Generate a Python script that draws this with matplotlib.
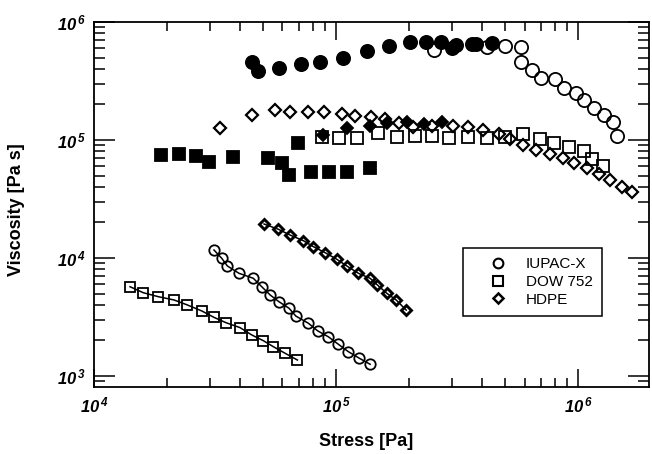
import matplotlib
matplotlib.use("Agg")
import matplotlib.pyplot as plt
from matplotlib.lines import Line2D
from matplotlib.ticker import LogLocator, NullFormatter

plt.rcParams['font.family'] = ['Liberation Sans', 'DejaVu Sans']

# upper data: filled circles
fcirc_x = [4.48e4, 4.77e4, 5.81e4, 7.15e4, 8.59e4, 1.072e5, 1.347e5, 1.661e5, 2.01e5,
           2.355e5, 2.71e5, 3.01e5, 3.13e5, 3.64e5, 3.79e5, 4.40e5]
fcirc_y = [4.61e5, 3.87e5, 4.05e5, 4.38e5, 4.56e5, 4.98e5, 5.68e5, 6.26e5, 6.73e5,
           6.73e5, 6.73e5, 5.99e5, 6.38e5, 6.51e5, 6.47e5, 6.60e5]
# open circles (IUPAC-X)
ocirc_x = [2.525e5, 4.195e5, 4.99e5, 5.80e5, 5.80e5, 6.44e5, 7.01e5, 8.04e5, 8.70e5,
           9.78e5, 1.059e6, 1.165e6, 1.281e6, 1.391e6, 1.445e6]
ocirc_y = [5.79e5, 6.17e5, 6.30e5, 6.14e5, 4.56e5, 3.92e5, 3.33e5, 3.27e5, 2.74e5,
           2.52e5, 2.18e5, 1.856e5, 1.628e5, 1.429e5, 1.081e5]
# filled squares
fsq_x = [1.892e4, 2.25e4, 2.64e4, 2.99e4, 3.76e4, 5.25e4, 5.96e4, 6.39e4, 6.99e4,
         7.86e4, 9.38e4, 1.114e5, 1.382e5]
fsq_y = [7.46e4, 7.56e4, 7.32e4, 6.55e4, 7.22e4, 7.0e4, 6.34e4, 5.05e4, 9.43e4,
         5.39e4, 5.39e4, 5.39e4, 5.76e4]
# open squares (DOW 752)
osq_x = [8.73e4, 1.032e5, 1.218e5, 1.496e5, 1.781e5, 2.121e5, 2.486e5, 2.93e5, 3.495e5,
         4.18e5, 4.99e5, 5.94e5, 6.97e5, 7.96e5, 9.2e5, 1.052e6, 1.14e6, 1.26e6]
osq_y = [1.067e5, 1.046e5, 1.046e5, 1.14e5, 1.067e5, 1.081e5, 1.081e5, 1.05e5, 1.06e5,
         1.05e5, 1.067e5, 1.117e5, 1.02e5, 9.49e4, 8.77e4, 8.07e4, 6.9e4, 6.02e4]
# filled diamonds
fdia_x = [8.86e4, 1.107e5, 1.382e5, 1.62e5, 1.97e5, 2.31e5, 2.735e5]
fdia_y = [1.103e5, 1.257e5, 1.314e5, 1.385e5, 1.429e5, 1.366e5, 1.421e5]
# open diamonds (HDPE)
odia_x = [3.317e4, 4.48e4, 5.60e4, 6.45e4, 7.68e4, 8.92e4, 1.056e5, 1.198e5, 1.391e5,
          1.594e5, 1.826e5, 2.087e5, 2.493e5, 3.05e5, 3.52e5, 4.04e5, 4.69e5, 5.24e5,
          5.94e5, 6.71e5, 7.61e5, 8.65e5, 9.56e5, 1.086e6, 1.213e6, 1.356e6, 1.516e6, 1.667e6]
odia_y = [1.257e5, 1.628e5, 1.796e5, 1.737e5, 1.737e5, 1.737e5, 1.66e5, 1.607e5, 1.557e5,
          1.521e5, 1.385e5, 1.297e5, 1.327e5, 1.314e5, 1.281e5, 1.215e5, 1.124e5, 1.014e5,
          9.07e4, 8.23e4, 7.61e4, 7.0e4, 6.34e4, 5.76e4, 5.15e4, 4.58e4, 4.02e4, 3.65e4]

# lower data (with lines)
lsq_x = [1.409e4, 1.598e4, 1.844e4, 2.141e4, 2.43e4, 2.786e4, 3.13e4, 3.51e4, 4.01e4,
         4.48e4, 5.01e4, 5.51e4, 6.16e4, 6.92e4]
lsq_y = [5.71e3, 5.08e3, 4.70e3, 4.41e3, 4.0e3, 3.56e3, 3.14e3, 2.83e3, 2.57e3,
         2.23e3, 1.99e3, 1.77e3, 1.557e3, 1.366e3]
lcirc_x = [3.13e4, 3.37e4, 3.555e4, 3.97e4, 4.55e4, 4.93e4, 5.34e4, 5.81e4, 6.39e4,
           6.82e4, 7.68e4, 8.40e4, 9.29e4, 1.022e5, 1.124e5, 1.248e5, 1.382e5]
lcirc_y = [1.169e4, 9.94e3, 8.56e3, 7.42e3, 6.73e3, 5.71e3, 4.86e3, 4.26e3, 3.75e3,
           3.22e3, 2.80e3, 2.41e3, 2.15e3, 1.856e3, 1.607e3, 1.413e3, 1.257e3]
ldia_x = [5.04e4, 5.78e4, 6.45e4, 7.33e4, 8.06e4, 9.01e4, 1.007e5, 1.107e5, 1.236e5,
          1.382e5, 1.482e5, 1.62e5, 1.77e5, 1.947e5]
ldia_y = [1.941e4, 1.75e4, 1.566e4, 1.401e4, 1.247e4, 1.109e4, 9.75e3, 8.56e3, 7.42e3,
          6.73e3, 5.90e3, 5.02e3, 4.41e3, 3.62e3]

legend_labels = ['IUPAC-X', 'DOW 752', 'HDPE']
xtick_vals = [1e4, 1e5, 1e6]
xtick_labels = [r'$\mathdefault{10^{\,4}}$', r'$\mathdefault{10^{\,5}}$', r'$\mathdefault{10^{\,6}}$']
ytick_vals = [1e3, 1e4, 1e5, 1e6]
ytick_labels = [r'$\mathdefault{10^{\,3}}$', r'$\mathdefault{10^{\,4}}$',
                r'$\mathdefault{10^{\,5}}$', r'$\mathdefault{10^{\,6}}$']

fig = plt.figure(figsize=(6.52, 4.54), dpi=100)
ax = fig.add_axes([94 / 652, 67 / 454, 555 / 652, 365 / 454])
ax.set_xscale('log')
ax.set_yscale('log')

k = 'black'
mw = 1.3
ax.plot(fcirc_x, fcirc_y, 'o', ms=9.5, mfc=k, mec=k, mew=mw)
ax.plot(fsq_x, fsq_y, 's', ms=9, mfc=k, mec=k, mew=mw)
ax.plot(fdia_x, fdia_y, 'D', ms=6.5, mfc=k, mec=k, mew=mw)
ax.plot(ocirc_x, ocirc_y, 'o', ms=9.5, mfc='none', mec=k, mew=mw)
ax.plot(osq_x, osq_y, 's', ms=9, mfc='none', mec=k, mew=mw)
ax.plot(odia_x, odia_y, 'D', ms=6, mfc='none', mec=k, mew=1.6)

ax.plot(lsq_x, lsq_y, 's-', color=k, lw=1.1, ms=7.5, mfc='none', mec=k, mew=mw)
ax.plot(lcirc_x, lcirc_y, 'o-', color=k, lw=1.1, ms=7.5, mfc='none', mec=k, mew=mw)
ax.plot(ldia_x, ldia_y, 'D-', color=k, lw=1.1, ms=5, mfc='none', mec=k, mew=2.1)

ax.set_xlim(1e4, 1.96e6)
ax.set_ylim(8.07e2, 1e6)

ax.set_xticks(xtick_vals, xtick_labels)
ax.set_yticks(ytick_vals, ytick_labels)
ax.xaxis.set_minor_locator(LogLocator(base=10, subs=range(2, 10), numticks=20))
ax.yaxis.set_minor_locator(LogLocator(base=10, subs=range(2, 10), numticks=20))
ax.xaxis.set_minor_formatter(NullFormatter())
ax.yaxis.set_minor_formatter(NullFormatter())
ax.tick_params(which='both', direction='in', top=True, right=True, width=1.1)
ax.tick_params(axis='x', which='major', length=13, pad=6)
ax.tick_params(axis='x', which='minor', length=6.5)
ax.tick_params(axis='y', which='major', length=15, pad=6)
ax.tick_params(axis='y', which='minor', length=8)
for lab in ax.get_xticklabels() + ax.get_yticklabels():
    lab.set_fontsize(12)
    lab.set_fontweight('bold')
    lab.set_fontstyle('italic')
for s in ax.spines.values():
    s.set_linewidth(1.3)

ax.set_xlabel('Stress [Pa]', fontsize=13, fontweight='bold')
ax.set_ylabel('Viscosity [Pa s]', fontsize=13, fontweight='bold')
ax.xaxis.set_label_coords(0.49, -0.125)
ax.yaxis.set_label_coords(-0.125, 0.485)

handles = [
    Line2D([], [], ls='', marker='o', ms=7, mfc='none', mec=k, mew=1.5),
    Line2D([], [], ls='', marker='s', ms=7, mfc='none', mec=k, mew=1.5),
    Line2D([], [], ls='', marker='D', ms=4.8, mfc='none', mec=k, mew=1.8),
]
leg = ax.legend(handles, legend_labels, loc='upper left', bbox_to_anchor=(0.665, 0.381),
                fontsize=11, frameon=True, fancybox=False, framealpha=1, edgecolor=k,
                borderpad=0.6, labelspacing=0.25, handlelength=3.4, handletextpad=0.1,
                borderaxespad=0)
leg.get_frame().set_linewidth(1.1)

fig.savefig('out.png', dpi=100)
